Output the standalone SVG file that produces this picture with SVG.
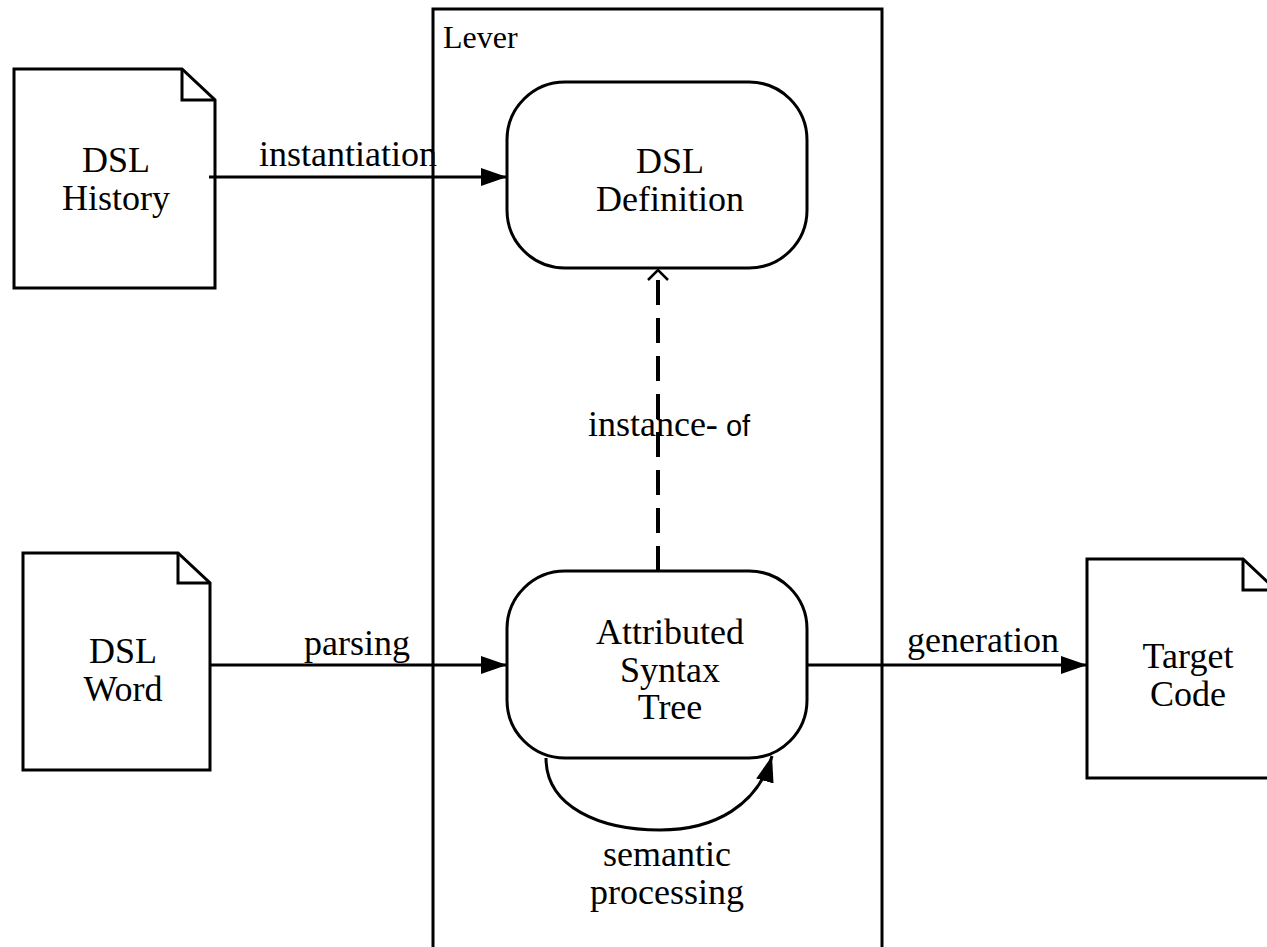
<svg xmlns="http://www.w3.org/2000/svg" width="1267" height="947" viewBox="0 0 1267 947">
  <defs>
    <style>
      .shape { fill: #fff; stroke: #000; stroke-width: 3; stroke-linejoin: miter; }
      .line { fill: none; stroke: #000; stroke-width: 3; }
      .dash { fill: none; stroke: #000; stroke-width: 4; stroke-dasharray: 25 13; }
      .t { font-family: "Liberation Serif", "Times New Roman", serif; font-size: 36px; fill: #000; text-anchor: middle; }
      .lbl { font-family: "Liberation Serif", "Times New Roman", serif; font-size: 32px; fill: #000; }
      .sans { font-family: "Liberation Sans", Arial, sans-serif; font-size: 29px; }
    </style>
    <marker id="arrow" viewBox="0 0 26 18" refX="26" refY="9" markerWidth="26" markerHeight="18" markerUnits="userSpaceOnUse" orient="auto">
      <path d="M0,0 L26,9 L0,18 Z" fill="#000"/>
    </marker>
    <marker id="open" viewBox="0 0 12 22" refX="11" refY="11" markerWidth="12" markerHeight="22" markerUnits="userSpaceOnUse" orient="auto">
      <path d="M1,1 L11,11 L1,21" fill="none" stroke="#000" stroke-width="2.5"/>
    </marker>
  </defs>

  <!-- Lever container -->
  <g id="lever">
    <rect x="433" y="9" width="449" height="950" fill="none" stroke="#000" stroke-width="3"/>
    <text class="lbl" x="443" y="48">Lever</text>
  </g>

  <!-- input document: DSL History -->
  <g id="dsl-history">
    <path class="shape" d="M14,69 H182 L215,100 V288 H14 Z"/>
    <path class="line" d="M182,69 V100 H215"/>
    <text class="t" x="116" y="172">DSL</text>
    <text class="t" x="116" y="210">History</text>
  </g>

  <!-- input document: DSL Word -->
  <g id="dsl-word">
    <path class="shape" d="M23,553 H178 L210,583 V770 H23 Z"/>
    <path class="line" d="M178,553 V583 H210"/>
    <text class="t" x="123" y="663">DSL</text>
    <text class="t" x="123" y="701">Word</text>
  </g>

  <!-- output document: Target Code -->
  <g id="target-code">
    <path class="shape" d="M1087,559 H1243 L1276,590 V778 H1087 Z"/>
    <path class="line" d="M1243,559 V590 H1276"/>
    <text class="t" x="1188" y="668">Target</text>
    <text class="t" x="1188" y="706">Code</text>
  </g>

  <!-- DSL Definition -->
  <g id="dsl-definition">
    <rect class="shape" x="507" y="82" width="300" height="186" rx="58" ry="58"/>
    <text class="t" x="670" y="173">DSL</text>
    <text class="t" x="670" y="211">Definition</text>
  </g>

  <!-- Attributed Syntax Tree -->
  <g id="ast">
    <rect class="shape" x="507" y="571" width="300" height="187" rx="58" ry="58"/>
    <text class="t" x="670" y="644">Attributed</text>
    <text class="t" x="670" y="682">Syntax</text>
    <text class="t" x="670" y="719">Tree</text>
  </g>

  <!-- connectors -->
  <g id="connectors">
    <line class="line" x1="209" y1="177" x2="507" y2="177" marker-end="url(#arrow)"/>
    <text class="t" x="348" y="166">instantiation</text>

    <line class="line" x1="210" y1="665" x2="507" y2="665" marker-end="url(#arrow)"/>
    <text class="t" x="357" y="655">parsing</text>

    <line class="line" x1="807" y1="665" x2="1087" y2="665" marker-end="url(#arrow)"/>
    <text class="t" x="983" y="652">generation</text>

    <line class="dash" x1="658" y1="571" x2="658" y2="270" marker-end="url(#open)"/>
    <text class="t" x="669" y="436">instance-<tspan class="sans"> of</tspan></text>

    <path class="line" d="M546,758 C546,807 600,830 660,830 C715,830 758,805 772,756" marker-end="url(#arrow)"/>
    <text class="t" x="667" y="866">semantic</text>
    <text class="t" x="667" y="904">processing</text>
  </g>
</svg>
